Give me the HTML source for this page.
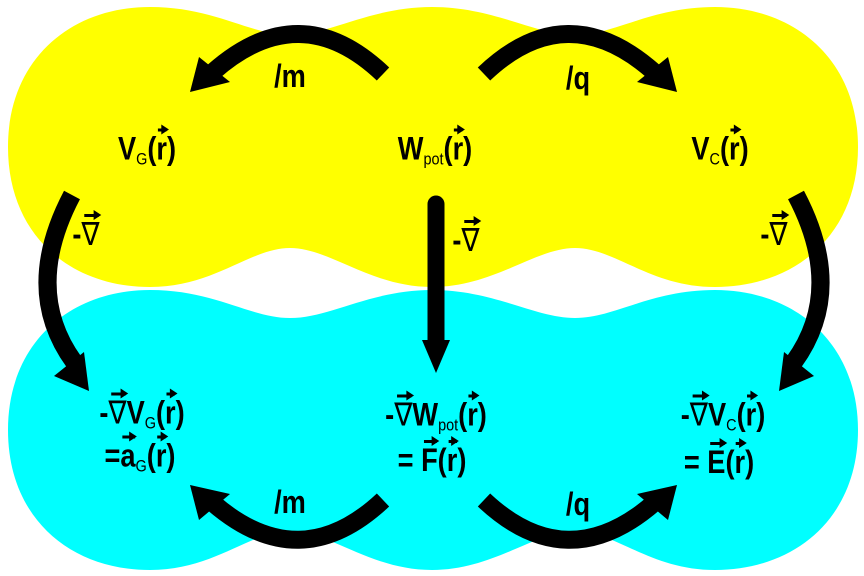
<!DOCTYPE html>
<html><head><meta charset="utf-8"><style>
html,body{margin:0;padding:0;background:#fff;}
#c{position:relative;width:864px;height:576px;overflow:hidden;}
svg{position:absolute;left:0;top:0;}
.l{position:absolute;font-family:"Liberation Sans","DejaVu Sans",sans-serif;font-weight:bold;font-size:32px;color:#000;white-space:nowrap;transform:translate(-50%,-50%) scaleX(0.85);line-height:1;}
.v{position:relative;display:inline-block;}
.v::before{content:"";position:absolute;left:15%;right:5%;top:-4px;height:3px;background:#000;}
.v::after{content:"";position:absolute;right:-2px;top:-8px;border-left:9px solid #000;border-top:5.5px solid transparent;border-bottom:5.5px solid transparent;}
sub{font-size:17px;vertical-align:-5px;font-weight:normal;}
.n{font-family:"DejaVu Sans",sans-serif;font-weight:normal;}
</style></head><body><div id="c">
<svg width="864" height="576" viewBox="0 0 864 576">
<defs>
<path id="blob" d="M8,147 C8,60 70,7 150,7 C215,7 250,35 290,35 C330,35 370,7 432,7 C494,7 535,35 575,35 C615,35 650,7 715,7 C795,7 858,60 858,147 C858,235 795,287 715,287 C650,287 615,248 575,248 C535,248 494,287 432,287 C370,287 330,248 290,248 C250,248 215,287 150,287 C70,287 8,235 8,147 Z"/>
</defs>
<use href="#blob" fill="#ffff00"/>
<use href="#blob" fill="#00ffff" transform="translate(0,283)"/>
<g fill="none" stroke="#000" stroke-width="18">
<path d="M383,74 Q300,-5 213,72"/>
<path d="M484,74 Q567,-5 654,72"/>
<path d="M383,500 Q300,578 213,503"/>
<path d="M484,500 Q567,578 654,503"/>
<path d="M72,195 Q22,290 74,362"/>
<path d="M796,195 Q846,290 794,362"/>
</g>
<line x1="436" y1="204" x2="436" y2="345" stroke="#000" stroke-width="17" stroke-linecap="round"/>
<g fill="#000">
<polygon points="190,92 199,57 230,82"/>
<polygon points="677,92 668,57 637,82"/>
<polygon points="190,485 199,520 230,494"/>
<polygon points="677,485 668,520 637,494"/>
<polygon points="89,391 54,376 84,352"/>
<polygon points="779,391 814,376 784,352"/>
<polygon points="422,340 450,340 436,373"/>
</g>
</svg>
<div class="l" style="left:147px;top:150px">V<sub>G</sub>(<span class="v">r</span>)</div>
<div class="l" style="left:435px;top:150px">W<sub>pot</sub>(<span class="v">r</span>)</div>
<div class="l" style="left:720px;top:150px">V<sub>C</sub>(<span class="v">r</span>)</div>
<div class="l" style="left:290px;top:76px">/m</div>
<div class="l" style="left:578px;top:78px">/q</div>
<div class="l" style="left:86px;top:234px">-<span class="v n">∇</span></div>
<div class="l" style="left:466px;top:240px">-<span class="v n">∇</span></div>
<div class="l" style="left:774px;top:234px">-<span class="v n">∇</span></div>
<div class="l" style="left:142px;top:414px">-<span class="v n">∇</span>V<sub>G</sub>(<span class="v">r</span>)</div>
<div class="l" style="left:140px;top:457px">=<span class="v">a</span><sub>G</sub>(<span class="v">r</span>)</div>
<div class="l" style="left:436px;top:416px">-<span class="v n">∇</span>W<sub>pot</sub>(<span class="v">r</span>)</div>
<div class="l" style="left:432px;top:460px">= <span class="v">F</span>(<span class="v">r</span>)</div>
<div class="l" style="left:723px;top:416px">-<span class="v n">∇</span>V<sub>C</sub>(<span class="v">r</span>)</div>
<div class="l" style="left:719px;top:462px">= <span class="v">E</span>(<span class="v">r</span>)</div>
<div class="l" style="left:290px;top:502px">/m</div>
<div class="l" style="left:578px;top:504px">/q</div>
</div></body></html>
